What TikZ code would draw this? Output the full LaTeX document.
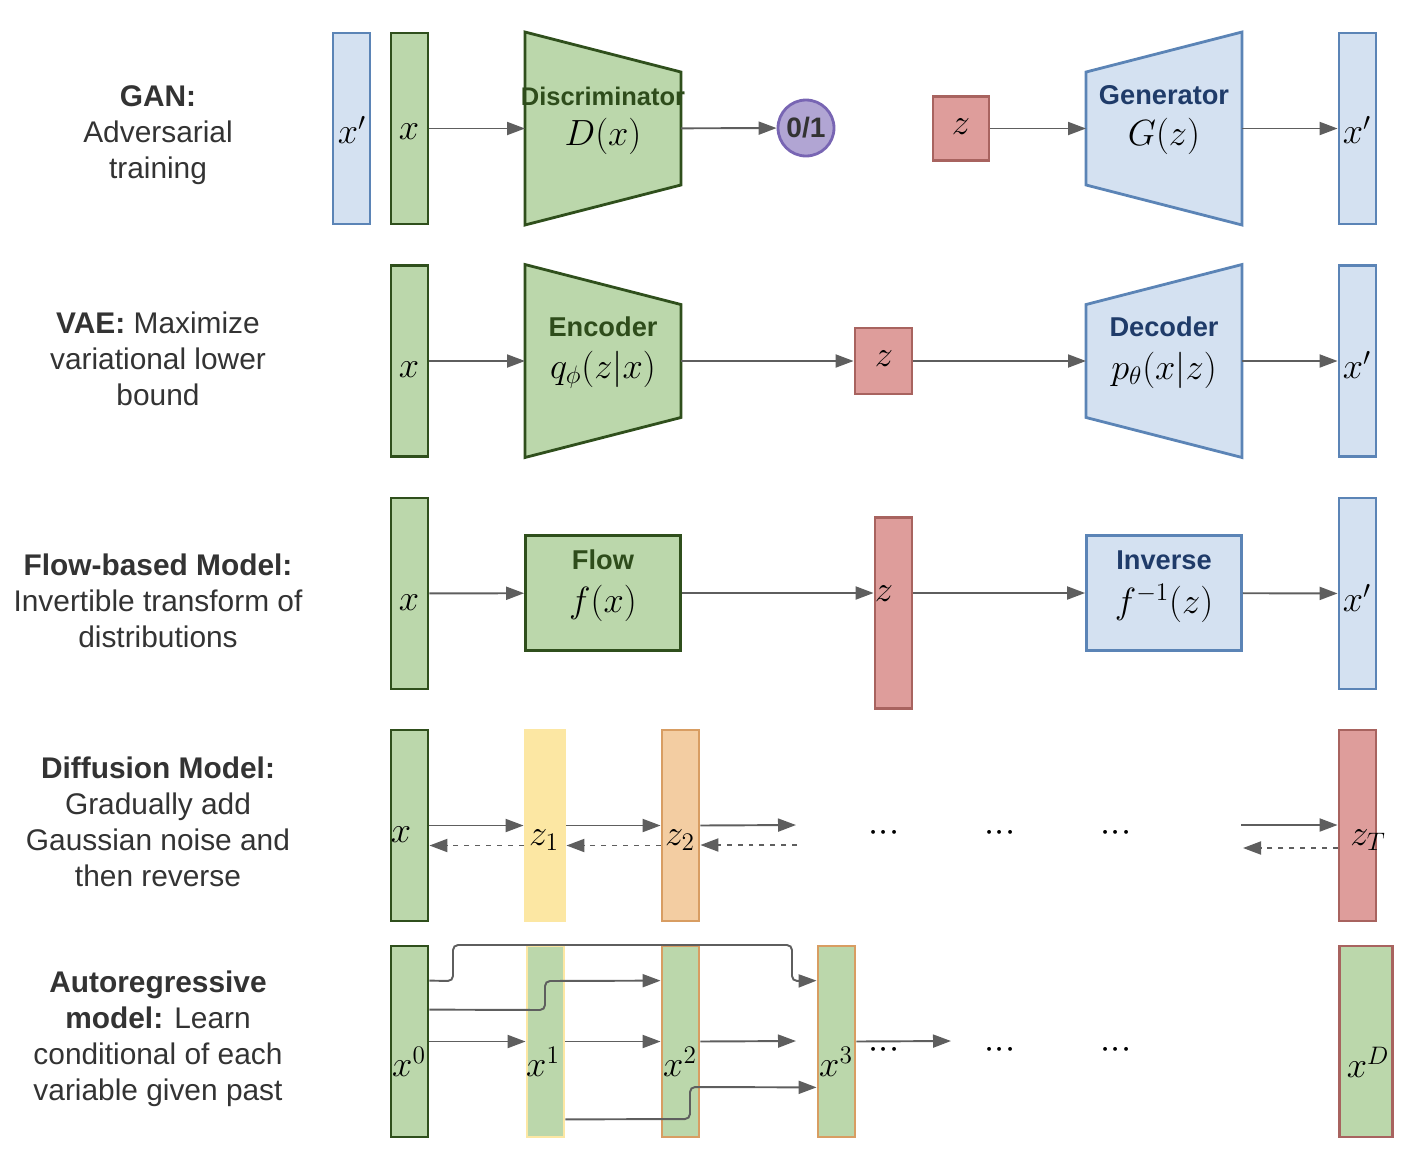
\documentclass[tikz,border=0pt]{standalone}
\usepackage{fontspec}
\setmainfont{Liberation Sans}
\usetikzlibrary{arrows.meta,calc}

\definecolor{grnfill}{HTML}{BBD7AB}
\definecolor{grnline}{HTML}{2F4F1C}
\definecolor{grntext}{HTML}{2E4C1B}
\definecolor{blufill}{HTML}{D4E1F1}
\definecolor{bluline}{HTML}{5B84B6}
\definecolor{blutext}{HTML}{1F3B69}
\definecolor{redfill}{HTML}{DE9D9B}
\definecolor{redline}{HTML}{A8635F}
\definecolor{yelfill}{HTML}{FCE7A3}
\definecolor{orgfill}{HTML}{F3CDA2}
\definecolor{orgline}{HTML}{D89D62}
\definecolor{purfill}{HTML}{B1A5D3}
\definecolor{purline}{HTML}{7865B3}
\definecolor{txtgray}{HTML}{333333}
\definecolor{arrgray}{HTML}{5E5E5E}

\tikzset{
  bar/.style={draw, line width=1.6pt, minimum width=0.74cm, minimum height=3.82cm, inner sep=0pt},
  gbar/.style={bar, fill=grnfill, draw=grnline},
  bbar/.style={bar, fill=blufill, draw=bluline},
  rbar/.style={bar, fill=redfill, draw=redline},
  hull/.style={inner sep=0pt, outer sep=0pt, minimum width=3.12cm, minimum height=3.86cm},
  gshape/.style={fill=grnfill, draw=grnline, line width=1.6pt, line join=miter},
  bshape/.style={fill=blufill, draw=bluline, line width=1.6pt, line join=miter},
  arr/.style={draw=arrgray, line width=1.1pt, -{Triangle[length=0.36cm,width=0.26cm]}},
  dotarr/.style={arr, dash pattern=on 2.8pt off 3.4pt},
  wire/.style={arr, rounded corners=0.1cm},
  desc/.style={text=txtgray, align=center, font=\fontsize{17}{20.5}\selectfont},
  ttl/.style={inner sep=0pt, font=\fontsize{15.5}{18}\selectfont\bfseries},
  sym/.style={inner sep=0pt, font=\fontsize{22}{26}\selectfont},
  fn/.style={inner sep=0pt, font=\fontsize{21}{25}\selectfont},
}
\newcommand{\dotrow}{${\cdot}{\cdot}{\cdot}$}

\begin{document}
\begin{tikzpicture}[x=0.02cm,y=-0.02cm]
  \useasboundingbox (0,0) rectangle (1420,1164);

  % left column: descriptions
  \node[desc] (gan) at (158,135) {\textbf{GAN:}\\Adversarial\\training};
  \node[desc] (vae) at (158,359) {\textbf{VAE:} Maximize\\variational lower\\bound};
  \node[desc] (flw) at (158,601) {\textbf{Flow-based Model:}\\Invertible transform of\\distributions};
  \node[desc] (dif) at (158,822) {\textbf{Diffusion Model:}\\Gradually add\\Gaussian noise and\\then reverse};
  \node[desc] (aut) at (158,1039) {\textbf{Autoregressive}\\\textbf{model:} Learn\\conditional of each\\variable given past};

  % GAN
  \node[bbar] (gxp) at (351.5,128.5) {};
  \node[gbar] (gx) at (409.5,128.5) {};
  \node[sym] (gxpl) at (352,130) {$x'$};
  \node[sym] (gxl) at (409,132) {$x$};
  \node[hull] (disc) at (603,128.5) {};
  \draw[gshape] (disc.north west) -- ($(disc.north east)+(0,40)$) -- ($(disc.south east)+(0,-40)$) -- (disc.south west) -- cycle;
  \node[ttl, text=grntext, font=\fontsize{14.5}{17}\selectfont\bfseries] (disct) at (603,96) {Discriminator};
  \node[fn] (discf) at (603,136) {$D(x)$};
  \node[circle, fill=purfill, draw=purline, line width=1.6pt, minimum size=1.12cm, inner sep=0pt,
        text=txtgray, font=\fontsize{16}{18}\selectfont\bfseries] (out) at (806,128) {0/1};
  \node[rbar, minimum width=1.12cm, minimum height=1.28cm] (gz) at (961,128.5) {};
  \node[sym] (gzl) at (961,127) {$z$};
  \node[hull] (gen) at (1164,128.5) {};
  \draw[bshape] ($(gen.north west)+(0,40)$) -- (gen.north east) -- (gen.south east) -- ($(gen.south west)+(0,-40)$) -- cycle;
  \node[ttl, text=blutext] (gent) at (1164,95) {Generator};
  \node[fn] (genf) at (1164,136) {$G(z)$};
  \node[bbar] (gxo) at (1357.5,128.5) {};
  \node[sym] (gxol) at (1357,130) {$x'$};
  \draw[arr] (gx) -- (disc);
  \draw[arr] (disc) -- (out);
  \draw[arr] (gz) -- (gen);
  \draw[arr] (gen) -- (gxo);

  % VAE
  \node[gbar] (vx) at (409.5,361) {};
  \node[sym] (vxl) at (409,370) {$x$};
  \node[hull] (enc) at (603,361) {};
  \draw[gshape] (enc.north west) -- ($(enc.north east)+(0,40)$) -- ($(enc.south east)+(0,-40)$) -- (enc.south west) -- cycle;
  \node[ttl, text=grntext] (enct) at (603,327) {Encoder};
  \node[fn] (encf) at (603,370) {$q_\phi(z|x)$};
  \node[rbar, minimum width=1.14cm, minimum height=1.32cm] (vz) at (883.5,361) {};
  \node[sym] (vzl) at (884,359) {$z$};
  \node[hull] (dec) at (1164,361) {};
  \draw[bshape] ($(dec.north west)+(0,40)$) -- (dec.north east) -- (dec.south east) -- ($(dec.south west)+(0,-40)$) -- cycle;
  \node[ttl, text=blutext] (dect) at (1164,327) {Decoder};
  \node[fn] (decf) at (1164,370) {$p_\theta(x|z)$};
  \node[bbar] (vxo) at (1357.5,361) {};
  \node[sym] (vxol) at (1357,365) {$x'$};
  \draw[arr] (vx) -- (enc);
  \draw[arr] (enc) -- (vz);
  \draw[arr] (vz) -- (dec);
  \draw[arr] (dec) -- (vxo);

  % Flow
  \node[gbar] (fx) at (409.5,593.5) {};
  \node[sym] (fxl) at (409,603) {$x$};
  \node[draw=grnline, fill=grnfill, line width=1.6pt, minimum width=3.1cm, minimum height=2.3cm] (flow) at (603,593) {};
  \node[ttl, text=grntext] (flowt) at (603,560) {Flow};
  \node[fn] (flowf) at (603,603) {$f(x)$};
  \node[rbar] (fz) at (893.5,613) {};
  \node[sym] (fzl) at (884,594) {$z$};
  \node[draw=bluline, fill=blufill, line width=1.6pt, minimum width=3.1cm, minimum height=2.3cm] (inv) at (1164,593) {};
  \node[ttl, text=blutext] (invt) at (1164,560) {Inverse};
  \node[fn] (invf) at (1164,603) {$f^{-1}(z)$};
  \node[bbar] (fxo) at (1357.5,593.5) {};
  \node[sym] (fxol) at (1357,598) {$x'$};
  \draw[arr] (fx) -- (flow);
  \draw[arr] (flow.east) -- (flow.east -| fz.west);
  \draw[arr] (fz.east |- inv.west) -- (inv.west);
  \draw[arr] (inv) -- (fxo);

  % Diffusion
  \node[gbar] (dx) at (409.5,825.5) {};
  \node[bar, fill=yelfill, draw=yelfill, minimum width=0.8cm] (dz1) at (545,825.5) {};
  \node[bar, fill=orgfill, draw=orgline] (dz2) at (680.5,825.5) {};
  \node[rbar] (dzt) at (1357.5,825.5) {};
  \coordinate (dend) at (796,825);
  \coordinate (dendb) at (797,845);
  \coordinate (dstart) at (1241,825);
  \coordinate (dstartb) at (1243,848);
  \draw[arr] (dx) -- (dz1);
  \draw[arr] (dz1) -- (dz2);
  \draw[arr] (dz2.east) -- (dend);
  \draw[arr] (dstart) -- (dstart -| dzt.west);
  \draw[dotarr] ($(dz1.west)+(0,20)$) -- ($(dx.east)+(0,20)$);
  \draw[dotarr] ($(dz2.west)+(0,20)$) -- ($(dz1.east)+(0,20)$);
  \draw[dotarr] (dendb) -- (dendb -| dz2.east);
  \draw[dotarr] (dstartb -| dzt.west) -- (dstartb);
  \node[sym] (dxl) at (401,835) {$x$};
  \node[sym] (dz1l) at (544,840) {$z_1$};
  \node[sym] (dz2l) at (680,840) {$z_2$};
  \node[sym] (dztl) at (1368,840) {$z_T$};
  \node[sym] (ddots1) at (884,833) {\dotrow};
  \node[sym] (ddots2) at (1000,833) {\dotrow};
  \node[sym] (ddots3) at (1116,833) {\dotrow};

  % Autoregressive
  \node[gbar] (ax0) at (409.5,1041.5) {};
  \node[bar, fill=grnfill, draw=yelfill] (ax1) at (545.5,1041.5) {};
  \node[bar, fill=grnfill, draw=orgline] (ax2) at (680.5,1041.5) {};
  \node[bar, fill=grnfill, draw=orgline] (ax3) at (836.5,1041.5) {};
  \node[bar, fill=grnfill, draw=redline, minimum width=1.06cm] (axd) at (1366,1041.5) {};
  \coordinate (a2end) at (796,1041);
  \coordinate (a3end) at (951,1041);
  \draw[arr] (ax0) -- (ax1);
  \draw[arr] (ax1) -- (ax2);
  \draw[arr] (ax2.east) -- (a2end);
  \draw[arr] (ax3.east) -- (a3end);
  \draw[wire] ($(ax0.north east)+(0,36)$) -- (453,981) -- (453,945) -- (792,945) -- (792,981) -- ($(ax3.north west)+(0,36)$);
  \draw[wire] ($(ax0.north east)+(0,65)$) -- (545,1010) -- (545,981) -- ($(ax2.north west)+(0,36)$);
  \draw[wire] ($(ax1.south east)+(0,-19)$) -- (690,1119) -- (690,1087) -- ($(ax3.south west)+(0,-51)$);
  \node[sym] (ax0l) at (409,1062) {$x^0$};
  \node[sym] (ax1l) at (543,1062) {$x^1$};
  \node[sym] (ax2l) at (680,1062) {$x^2$};
  \node[sym] (ax3l) at (836,1062) {$x^3$};
  \node[sym] (axdl) at (1368,1062) {$x^D$};
  \node[sym] (adots1) at (884,1050) {\dotrow};
  \node[sym] (adots2) at (1000,1050) {\dotrow};
  \node[sym] (adots3) at (1116,1050) {\dotrow};
\end{tikzpicture}
\end{document}
